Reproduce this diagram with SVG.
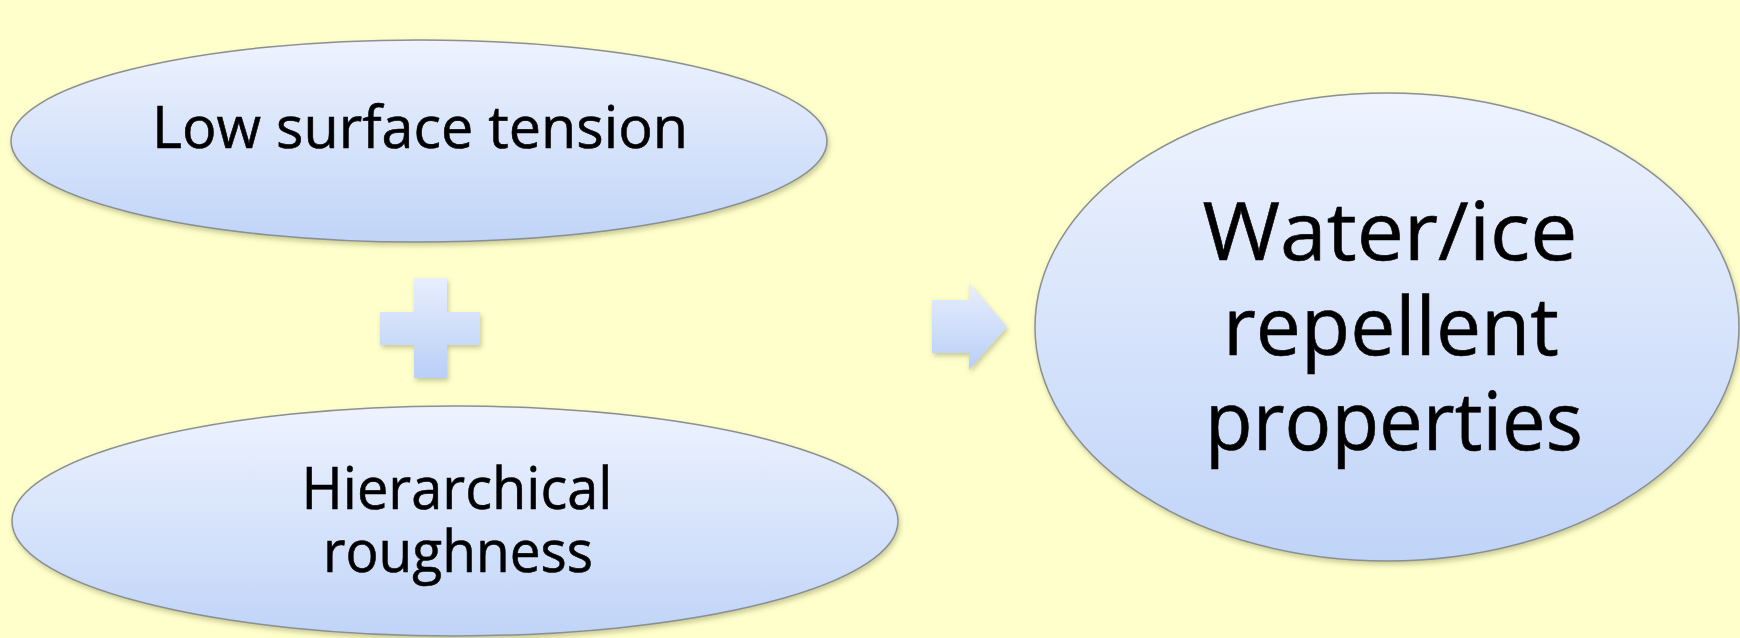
<svg xmlns="http://www.w3.org/2000/svg" width="1740" height="638" viewBox="0 0 1740 638">
  <defs>
    <linearGradient id="gEll" x1="0" y1="0" x2="0" y2="1">
      <stop offset="0" stop-color="#eef3fe"/>
      <stop offset="1" stop-color="#c0d4f8"/>
    </linearGradient>
    <linearGradient id="gSym" x1="0" y1="0" x2="0" y2="1">
      <stop offset="0" stop-color="#e8eefd"/>
      <stop offset="1" stop-color="#b8cff7"/>
    </linearGradient>
    <filter id="shadow" x="-10%" y="-10%" width="120%" height="130%">
      <feDropShadow dx="1.5" dy="3" stdDeviation="2.5" flood-color="#6b6b30" flood-opacity="0.35"/>
    </filter>
  </defs>
  <style>
    .ell { fill: url(#gEll); stroke: #8a8f92; stroke-width: 1.5; filter: url(#shadow); }
    .sym { fill: url(#gSym); filter: url(#shadow); }
    .lbl { font-family: "Open Sans", "Noto Sans", sans-serif; fill: #000; stroke: #000; stroke-width: 0.6; text-anchor: middle; }
    .s { font-size: 58px; }
    .b { font-size: 81px; }
  </style>
  <rect width="1740" height="638" fill="#ffffcc"/>

  <g id="node-low-surface-tension">
    <ellipse class="ell" cx="419" cy="141" rx="408" ry="101"/>
    <text class="lbl s" x="420" y="148" textLength="536" lengthAdjust="spacingAndGlyphs">Low surface tension</text>
  </g>

  <g id="node-hierarchical-roughness">
    <ellipse class="ell" cx="455" cy="521" rx="443" ry="115"/>
    <text class="lbl s" x="457" y="509" textLength="311" lengthAdjust="spacingAndGlyphs">Hierarchical</text>
    <text class="lbl s" x="458" y="572" textLength="270" lengthAdjust="spacingAndGlyphs">roughness</text>
  </g>

  <g id="node-water-ice-repellent">
    <ellipse class="ell" cx="1387" cy="327" rx="352" ry="234"/>
    <text class="lbl b" x="1390" y="260" textLength="375" lengthAdjust="spacingAndGlyphs">Water/ice</text>
    <text class="lbl b" x="1391" y="355" textLength="336" lengthAdjust="spacingAndGlyphs">repellent</text>
    <text class="lbl b" x="1394" y="450" textLength="378" lengthAdjust="spacingAndGlyphs">properties</text>
  </g>

  <g id="connectors">
    <path id="plus" class="sym" d="M414,278 H447 V312 H480 V345 H447 V378 H414 V345 H380 V312 H414 Z"/>
    <path id="arrow" class="sym" d="M932,300 H969 V283 L1007,327 L969,370 V353 H932 Z"/>
  </g>
</svg>
